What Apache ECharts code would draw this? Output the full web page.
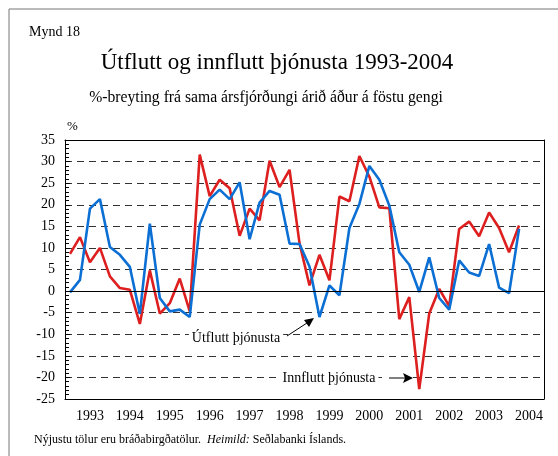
<!DOCTYPE html>
<html>
<head>
<meta charset="utf-8">
<script src="https://cdn.jsdelivr.net/npm/echarts@6/dist/echarts.min.js"></script>
<style>
html,body{margin:0;padding:0;background:#fff;}
#chart{width:558px;height:456px;}
</style>
</head>
<body>
<div id="chart"></div>
<script>
// ársfjórðungar 1993 Q1 - 2004 Q2 (46 gildi), ásinn nær til loka 2004
var years = ['1993','1994','1995','1996','1997','1998','1999','2000','2001','2002','2003','2004'];
var yTicks = [-25, -20, -15, -10, -5, 0, 5, 10, 15, 20, 25, 30, 35];

var utflutt = [-0.3, 2.6, 19.1, 21.3, 10.2, 8.4, 5.6, -5.3, 15.6, -1.6, -4.7, -4.3,
    -6.0, 15.4, 21.3, 23.5, 21.3, 25.2, 12.0, 20.5, 23.2, 22.3, 11.0, 10.9,
    5.7, -6.0, 1.3, -1.0, 14.6, 20.2, 29.0, 25.8, 19.8, 9.0, 6.1, -0.2,
    7.8, -1.6, -4.3, 7.1, 4.3, 3.5, 10.9, 0.8, -0.5, 14.4];
var innflutt = [8.6, 12.5, 6.7, 10.0, 3.4, 0.7, 0.3, -7.6, 4.8, -5.2, -2.8, 2.9,
    -4.7, 31.6, 22.0, 25.8, 23.8, 12.8, 19.1, 16.4, 30.2, 24.1, 28.1, 11.1,
    1.3, 8.4, 2.5, 21.9, 20.8, 31.3, 26.5, 19.4, 19.2, -6.5, -1.4, -22.7,
    -5.2, 0.5, -3.5, 14.4, 16.1, 12.7, 18.2, 14.6, 9.0, 15.2];

var cats = [];
years.forEach(function(y){ for (var q = 1; q <= 4; q++) cats.push(y + ' Q' + q); });

var serif = 'Liberation Serif';
var chart = echarts.init(document.getElementById('chart'));
var option = {
    animation: false,
    grid: {left: 65, right: 14, top: 140, bottom: 57},
    xAxis: [{
        type: 'category',
        data: cats,
        boundaryGap: true,
        axisLine: {onZero: false, lineStyle: {color: '#000'}},
        axisTick: {show: false},
        axisLabel: {
            interval: function(i){ return i % 4 === 2; },
            formatter: function(v){ return v.slice(0, 4); },
            fontFamily: serif, fontSize: 14, color: '#000', margin: 10
        }
    }, {
        type: 'category', data: cats, position: 'top',
        axisLine: {show: true, onZero: false, lineStyle: {color: '#000'}},
        axisTick: {show: false}, axisLabel: {show: false}, splitLine: {show: false}
    }],
    yAxis: [{
        type: 'value', min: -25, max: 35, interval: 5,
        axisLine: {show: true, lineStyle: {color: '#000'}},
        axisTick: {show: true, inside: true, length: 5, lineStyle: {color: '#000'}},
        minorTick: {show: true, splitNumber: 5, length: 4, lineStyle: {color: '#000', width: 1}},
        axisLabel: {fontFamily: serif, fontSize: 14, color: '#000', margin: 10,
            formatter: function(v){ return yTicks.indexOf(v) >= 0 ? String(v) : ''; }},
        splitLine: {show: true, lineStyle: {color: '#333', type: [7, 5], width: 1}}
    }, {
        type: 'value', min: -25, max: 35, interval: 5, position: 'right',
        axisLine: {show: true, lineStyle: {color: '#000'}},
        axisTick: {show: false}, axisLabel: {show: false}, splitLine: {show: false}
    }],
    series: [{
        name: 'Innflutt þjónusta',
        type: 'line',
        data: innflutt,
        symbol: 'none',
        lineStyle: {color: '#dd1f1f', width: 2.6},
        markLine: {
            silent: true, symbol: 'none', label: {show: false},
            lineStyle: {color: '#000', type: 'solid', width: 1},
            data: [{yAxis: 0}]
        }
    }, {
        name: 'Útflutt þjónusta',
        type: 'line',
        data: utflutt,
        symbol: 'none',
        lineStyle: {color: '#0b6fd4', width: 2.6}
    }],
    graphic: [
        {type: 'rect', shape: {x: 9, y: 9, width: 570, height: 470}, style: {fill: 'none', stroke: '#777', lineWidth: 1}},
        {type: 'text', left: 29, top: 25, style: {text: 'Mynd 18', font: '14px "Liberation Serif"', fill: '#000'}},
        {type: 'text', x: 277, y: 63, style: {text: 'Útflutt og innflutt þjónusta 1993-2004', font: '23px "Liberation Serif"', fill: '#000', align: 'center', verticalAlign: 'middle'}},
        {type: 'text', x: 266, y: 98, style: {text: '%-breyting frá sama ársfjórðungi árið áður á föstu gengi', font: '15.7px "Liberation Serif"', fill: '#000', align: 'center', verticalAlign: 'middle'}},
        {type: 'text', x: 67, y: 127, style: {text: '%', font: '13px "Liberation Serif"', fill: '#000', verticalAlign: 'middle'}},
        {type: 'text', x: 236, y: 338, z: 10, style: {text: 'Útflutt þjónusta', font: '14px "Liberation Serif"', fill: '#000', align: 'center', verticalAlign: 'middle', backgroundColor: '#fff', padding: [1, 3]}},
        {type: 'line', z: 10, shape: {x1: 287, y1: 336, x2: 310, y2: 321}, style: {stroke: '#000', lineWidth: 1}},
        {type: 'polygon', z: 10, shape: {points: [[314, 318], [304, 320], [309, 327]]}, style: {fill: '#000'}},
        {type: 'text', x: 329, y: 378, z: 10, style: {text: 'Innflutt þjónusta', font: '14px "Liberation Serif"', fill: '#000', align: 'center', verticalAlign: 'middle', backgroundColor: '#fff', padding: [1, 3]}},
        {type: 'rect', z: 9, shape: {x: 382, y: 372, width: 30, height: 12}, style: {fill: '#fff'}},
        {type: 'line', z: 10, shape: {x1: 389, y1: 378, x2: 406, y2: 378}, style: {stroke: '#000', lineWidth: 1}},
        {type: 'polygon', z: 10, shape: {points: [[413, 378], [403, 373], [405, 378], [403, 383]]}, style: {fill: '#000'}},
        {type: 'text', left: 34, top: 434, style: {rich: {n: {font: '12px "Liberation Serif"', fill: '#000'}, i: {font: 'italic 12px "Liberation Serif"', fill: '#000'}},
            text: '{n|Nýjustu tölur eru bráðabirgðatölur.  }{i|Heimild:}{n| Seðlabanki Íslands.}'}}
    ]
};
chart.setOption(option);
</script>
</body>
</html>
